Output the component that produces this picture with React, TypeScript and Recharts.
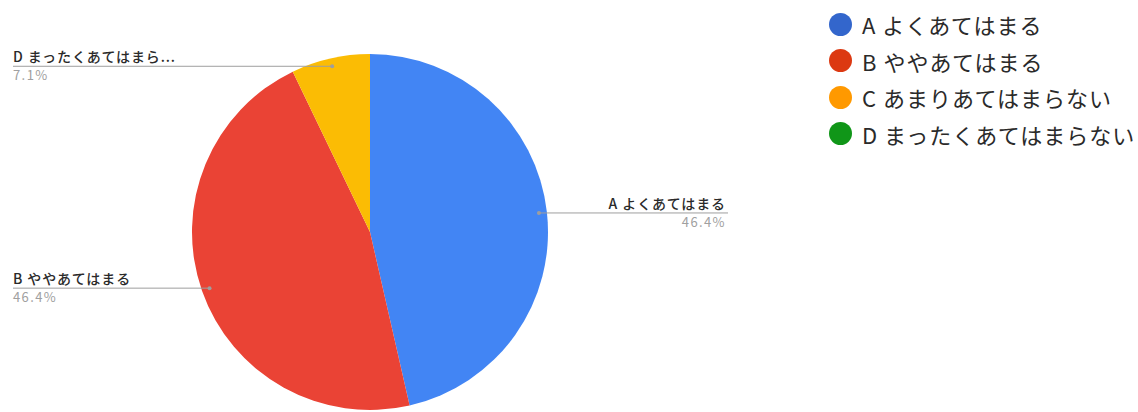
import { Cell, Legend, Pie, PieChart } from "recharts";

const sliceNames = ["A よくあてはまる", "B ややあてはまる", "D まったくあてはまら..."];
const sliceValues = [13, 13, 2];
const sliceColors = ["#4285f4", "#ea4335", "#fbbc04"];

const legendLabels = [
  "A よくあてはまる",
  "B ややあてはまる",
  "C あまりあてはまらない",
  "D まったくあてはまらない"
];
const legendColors = ["#3366cc", "#dc3912", "#ff9900", "#109618"];

const data = sliceNames.map((name, i) => ({ name, value: sliceValues[i] }));

const FONT = '"Noto Sans CJK JP", "Noto Sans", sans-serif';
const RAD = Math.PI / 180;

function renderLabel(props: any) {
  const { cx, cy, midAngle, outerRadius, percent, name } = props;
  const r = outerRadius * 0.955;
  const x = cx + r * Math.cos(-midAngle * RAD);
  const y = cy + r * Math.sin(-midAngle * RAD);
  const right = x > cx;
  const endX = right ? 728 : 13;
  const textX = right ? endX - 2 : endX;
  return (
    <g>
      <line x1={x} y1={y} x2={endX} y2={y} stroke="#9e9e9e" strokeWidth={1} />
      <circle cx={x} cy={y} r={2} fill="#9e9e9e" />
      <text
        x={textX}
        y={y - 4}
        textAnchor={right ? "end" : "start"}
        fontSize={14}
        fontFamily={FONT}
        fontWeight={500}
        letterSpacing={0.9}
        fill="#2a2a2a"
      >
        {name}
      </text>
      <text
        x={textX}
        y={y + 14}
        textAnchor={right ? "end" : "start"}
        fontSize={13}
        fontFamily={FONT}
        letterSpacing={1.4}
        fill="#a0a0a0"
      >
        {`${(percent * 100).toFixed(1)}%`}
      </text>
    </g>
  );
}

function ChartLegend() {
  return (
    <div style={{ fontFamily: FONT }}>
      {legendLabels.map((label, i) => (
        <div
          key={label}
          style={{ display: "flex", alignItems: "center", height: 36.5 }}
        >
          <span
            style={{
              width: 23,
              height: 23,
              borderRadius: "50%",
              background: legendColors[i],
              marginRight: 10
            }}
          />
          <span style={{ fontSize: 22, letterSpacing: 1, color: "#2a2a2a", whiteSpace: "nowrap" }}>
            {label}
          </span>
        </div>
      ))}
    </div>
  );
}

export default function App() {
  return (
    <div style={{ position: "absolute", left: 0, top: 0, width: 1138, height: 412, background: "#fff" }}>
      <PieChart width={1138} height={412} margin={{ top: 0, right: 0, bottom: 0, left: 0 }}>
        <Pie
          data={data}
          dataKey="value"
          nameKey="name"
          cx={370}
          cy={232}
          outerRadius={178}
          startAngle={90}
          endAngle={-270}
          stroke="none"
          label={renderLabel}
          labelLine={false}
          isAnimationActive={false}
        >
          {data.map((d, i) => (
            <Cell key={d.name} fill={sliceColors[i]} />
          ))}
        </Pie>
        <Legend
          layout="vertical"
          align="right"
          verticalAlign="top"
          wrapperStyle={{ left: 829, top: 6, width: 310 }}
          content={() => <ChartLegend />}
        />
      </PieChart>
    </div>
  );
}
